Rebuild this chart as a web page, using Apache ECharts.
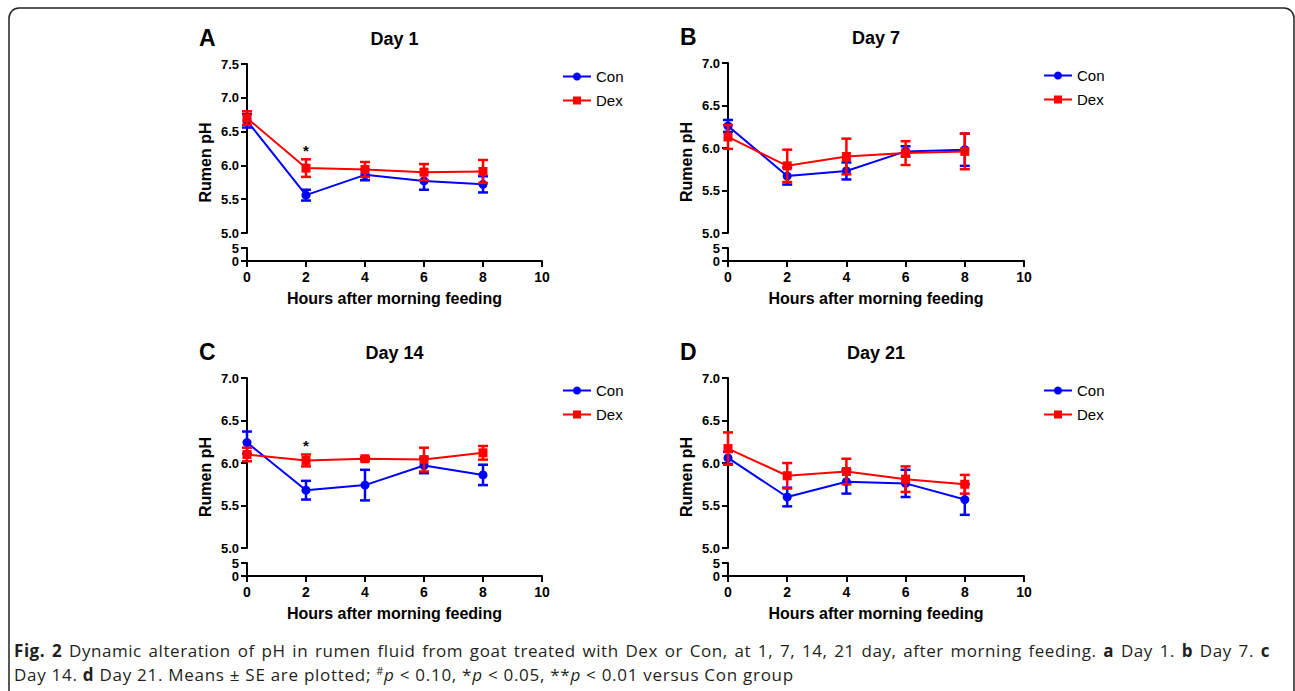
<!DOCTYPE html>
<html>
<head>
<meta charset="utf-8">
<script src="https://cdn.jsdelivr.net/npm/echarts@6/dist/echarts.min.js"></script>
<style>
    html, body{ margin: 0; padding: 0; background: #fff;}
    #main{ width: 1295px; height: 691px; position: absolute; left: 0; top: 0;}
    .caption{ position: absolute; left: 14px; width: 1256px; font-family: "Open Sans", sans-serif; font-size: 17px; letter-spacing: 0.55px; line-height: 24px; color: #231f20;}
    .caption.l1{ top: 639px; text-align: justify; text-align-last: justify;}
    .caption.l2{ top: 663px; white-space: nowrap; letter-spacing: 0.72px;}
    .caption b{ font-weight: 700;}
    .caption sup{ font-size: 11px; vertical-align: 6px; line-height: 0;}
</style>
</head>
<body>
<div id="main"></div>
<div class="caption l1"><b>Fig. 2</b> Dynamic alteration of pH in rumen fluid from goat treated with Dex or Con, at 1, 7, 14, 21 day, after morning feeding. <b>a</b> Day 1. <b>b</b> Day 7. <b>c</b></div>
<div class="caption l2">Day 14. <b>d</b> Day 21. Means ± SE are plotted; <sup>#</sup><i>p</i> &lt; 0.10, *<i>p</i> &lt; 0.05, **<i>p</i> &lt; 0.01 versus Con group</div>

<script>
    // hours after morning feeding
    var hours = [0, 2, 4, 6, 8];
    var xTicks = [0, 2, 4, 6, 8, 10];

    // Day 1
    var conDay1 = [6.66, 5.56, 5.86, 5.77, 5.72];
    var conDay1Se = [0.10, 0.08, 0.08, 0.13, 0.12];
    var dexDay1 = [6.70, 5.96, 5.94, 5.90, 5.91];
    var dexDay1Se = [0.10, 0.13, 0.11, 0.12, 0.17];
    var sigDay1 = ['', '*', '', '', ''];

    // Day 7
    var conDay7 = [6.26, 5.67, 5.73, 5.96, 5.98];
    var conDay7Se = [0.07, 0.10, 0.10, 0.06, 0.19];
    var dexDay7 = [6.13, 5.79, 5.90, 5.94, 5.96];
    var dexDay7Se = [0.14, 0.19, 0.21, 0.14, 0.21];
    var sigDay7 = ['', '', '', '', ''];

    // Day 14
    var conDay14 = [6.24, 5.68, 5.74, 5.97, 5.86];
    var conDay14Se = [0.13, 0.11, 0.18, 0.09, 0.12];
    var dexDay14 = [6.10, 6.03, 6.05, 6.04, 6.12];
    var dexDay14Se = [0.08, 0.07, 0.02, 0.14, 0.08];
    var sigDay14 = ['', '*', '', '', ''];

    // Day 21
    var conDay21 = [6.06, 5.60, 5.78, 5.76, 5.57];
    var conDay21Se = [0.07, 0.11, 0.14, 0.16, 0.18];
    var dexDay21 = [6.17, 5.85, 5.90, 5.81, 5.75];
    var dexDay21Se = [0.19, 0.15, 0.15, 0.15, 0.11];
    var sigDay21 = ['', '', '', '', ''];

    var panelLetters = ['A', 'B', 'C', 'D'];
    var panelTitles = ['Day 1', 'Day 7', 'Day 14', 'Day 21'];
    var yMaxes = [7.5, 7.0, 7.0, 7.0];

    var panelData = [
        {con: conDay1, conSe: conDay1Se, dex: dexDay1, dexSe: dexDay1Se, sig: sigDay1},
        {con: conDay7, conSe: conDay7Se, dex: dexDay7, dexSe: dexDay7Se, sig: sigDay7},
        {con: conDay14, conSe: conDay14Se, dex: dexDay14, dexSe: dexDay14Se, sig: sigDay14},
        {con: conDay21, conSe: conDay21Se, dex: dexDay21, dexSe: dexDay21Se, sig: sigDay21}
    ];

    // layout (px): plot left/width, upper top/bottom, lower strip top/bottom
    var layout = [
        {left: 247, width: 295, top: 64, split: 233, lowTop: 248, bottom: 261},
        {left: 728, width: 296, top: 63, split: 233, lowTop: 248, bottom: 261},
        {left: 247, width: 295, top: 378, split: 548, lowTop: 563, bottom: 576},
        {left: 728, width: 296, top: 378, split: 548, lowTop: 563, bottom: 576}
    ];

    var BLUE = '#0000ff', RED = '#ff0000';
    var FONT = "'Liberation Sans', Arial, sans-serif";

    var grid = [], xAxis = [], yAxis = [], series = [], legend = [], graphic = [];

    function axisLine(){ return {show: true, lineStyle: {color: '#000', width: 2}}; }
    function axisTick(){ return {show: true, inside: false, length: 6, lineStyle: {color: '#000', width: 2}}; }

    function errorBars(name, color, means, ses, gi, z){
        return {
            type: 'custom', name: name, xAxisIndex: gi, yAxisIndex: gi, z: z, silent: true,
            data: hours.map(function(h, i){ return [h, means[i] - ses[i], means[i] + ses[i]]; }),
            renderItem: function(params, api){
                var lo = api.coord([api.value(0), api.value(1)]);
                var hi = api.coord([api.value(0), api.value(2)]);
                var st = {stroke: color, lineWidth: 2.5};
                return {type: 'group', children: [
                    {type: 'line', shape: {x1: lo[0], y1: lo[1], x2: hi[0], y2: hi[1]}, style: st},
                    {type: 'line', shape: {x1: lo[0] - 5, y1: lo[1], x2: lo[0] + 5, y2: lo[1]}, style: st},
                    {type: 'line', shape: {x1: hi[0] - 5, y1: hi[1], x2: hi[0] + 5, y2: hi[1]}, style: st}
                ]};
            }
        };
    }

    panelData.forEach(function(d, p){
        var L = layout[p];
        var up = p * 2, low = p * 2 + 1;
        grid.push({left: L.left, top: L.top, width: L.width, height: L.split - L.top});
        grid.push({left: L.left, top: L.lowTop, width: L.width, height: L.bottom - L.lowTop});

        xAxis.push({gridIndex: up, type: 'value', min: 0, max: 10, show: false});
        xAxis.push({
            gridIndex: low, type: 'value', min: 0, max: 10, interval: 2,
            axisLine: axisLine(), axisTick: axisTick(), splitLine: {show: false},
            axisLabel: {color: '#000', fontFamily: FONT, fontWeight: 'bold', fontSize: 14, margin: 9,
                formatter: function(v){ return xTicks.indexOf(v) >= 0 ? String(v) : ''; }},
            name: 'Hours after morning feeding', nameLocation: 'middle', nameGap: 29,
            nameTextStyle: {color: '#000', fontFamily: FONT, fontWeight: 'bold', fontSize: 16}
        });

        yAxis.push({
            gridIndex: up, type: 'value', min: 5, max: yMaxes[p], interval: 0.5,
            axisLine: axisLine(), axisTick: axisTick(), splitLine: {show: false},
            axisLabel: {color: '#000', fontFamily: FONT, fontWeight: 'bold', fontSize: 13, margin: 8,
                formatter: function(v){ return v.toFixed(1); }}
        });
        yAxis.push({
            gridIndex: low, type: 'value', min: 0, max: 5, interval: 5,
            axisLine: axisLine(), axisTick: axisTick(), splitLine: {show: false},
            axisLabel: {color: '#000', fontFamily: FONT, fontWeight: 'bold', fontSize: 13, margin: 8}
        });

        series.push(errorBars('Con SE', BLUE, d.con, d.conSe, up, 2));
        series.push({
            type: 'line', name: 'Con', xAxisIndex: up, yAxisIndex: up, z: 3,
            data: hours.map(function(h, i){ return [h, d.con[i]]; }),
            symbol: 'circle', symbolSize: 9, color: BLUE,
            lineStyle: {color: BLUE, width: 2}, itemStyle: {color: BLUE}
        });
        series.push(errorBars('Dex SE', RED, d.dex, d.dexSe, up, 4));
        series.push({
            type: 'line', name: 'Dex', xAxisIndex: up, yAxisIndex: up, z: 5,
            data: hours.map(function(h, i){ return [h, d.dex[i]]; }),
            symbol: 'rect', symbolSize: 9, color: RED,
            lineStyle: {color: RED, width: 2}, itemStyle: {color: RED}
        });
        // significance marks above the Dex error bar
        series.push({
            type: 'custom', name: 'sig', xAxisIndex: up, yAxisIndex: up, z: 6, silent: true,
            data: hours.map(function(h, i){ return [h, d.dex[i] + d.dexSe[i]]; }),
            renderItem: function(params, api){
                var s = d.sig[params.dataIndex];
                if (!s) return null;
                var pt = api.coord([api.value(0), api.value(1)]);
                return {type: 'text', x: pt[0], y: pt[1] - 9,
                    style: {text: s, fill: '#000', font: 'bold 15px ' + FONT, align: 'center', verticalAlign: 'middle'}};
            }
        });

        legend.push({
            data: ['Con', 'Dex'], orient: 'vertical', left: L.left + 310, top: L.top,
            itemWidth: 28, itemHeight: 10, itemGap: 9,
            textStyle: {color: '#000', fontFamily: FONT, fontSize: 15}
        });

        var cx = L.left + L.width / 2;
        graphic.push({type: 'text', x: L.left - 48, y: L.top - 26,
            style: {text: panelLetters[p], fill: '#000', font: 'bold 23px ' + FONT, align: 'left', verticalAlign: 'middle'}});
        graphic.push({type: 'text', x: cx, y: L.top - 25,
            style: {text: panelTitles[p], fill: '#000', font: 'bold 18px ' + FONT, align: 'center', verticalAlign: 'middle'}});
        graphic.push({type: 'text', x: L.left - 42, y: (L.top + L.bottom) / 2, rotation: Math.PI / 2,
            style: {text: 'Rumen pH', fill: '#000', font: 'bold 16px ' + FONT, align: 'center', verticalAlign: 'middle'}});
    });

    // figure frame
    graphic.push({type: 'rect', shape: {x: 9, y: 8, width: 1285, height: 720, r: 10},
        style: {fill: 'none', stroke: '#222', lineWidth: 1.5}, z: -1});

    var chart = echarts.init(document.getElementById('main'), null, {renderer: 'svg'});
    chart.setOption({
        animation: false,
        grid: grid, xAxis: xAxis, yAxis: yAxis,
        legend: legend, graphic: graphic, series: series
    });
</script>
</body>
</html>
